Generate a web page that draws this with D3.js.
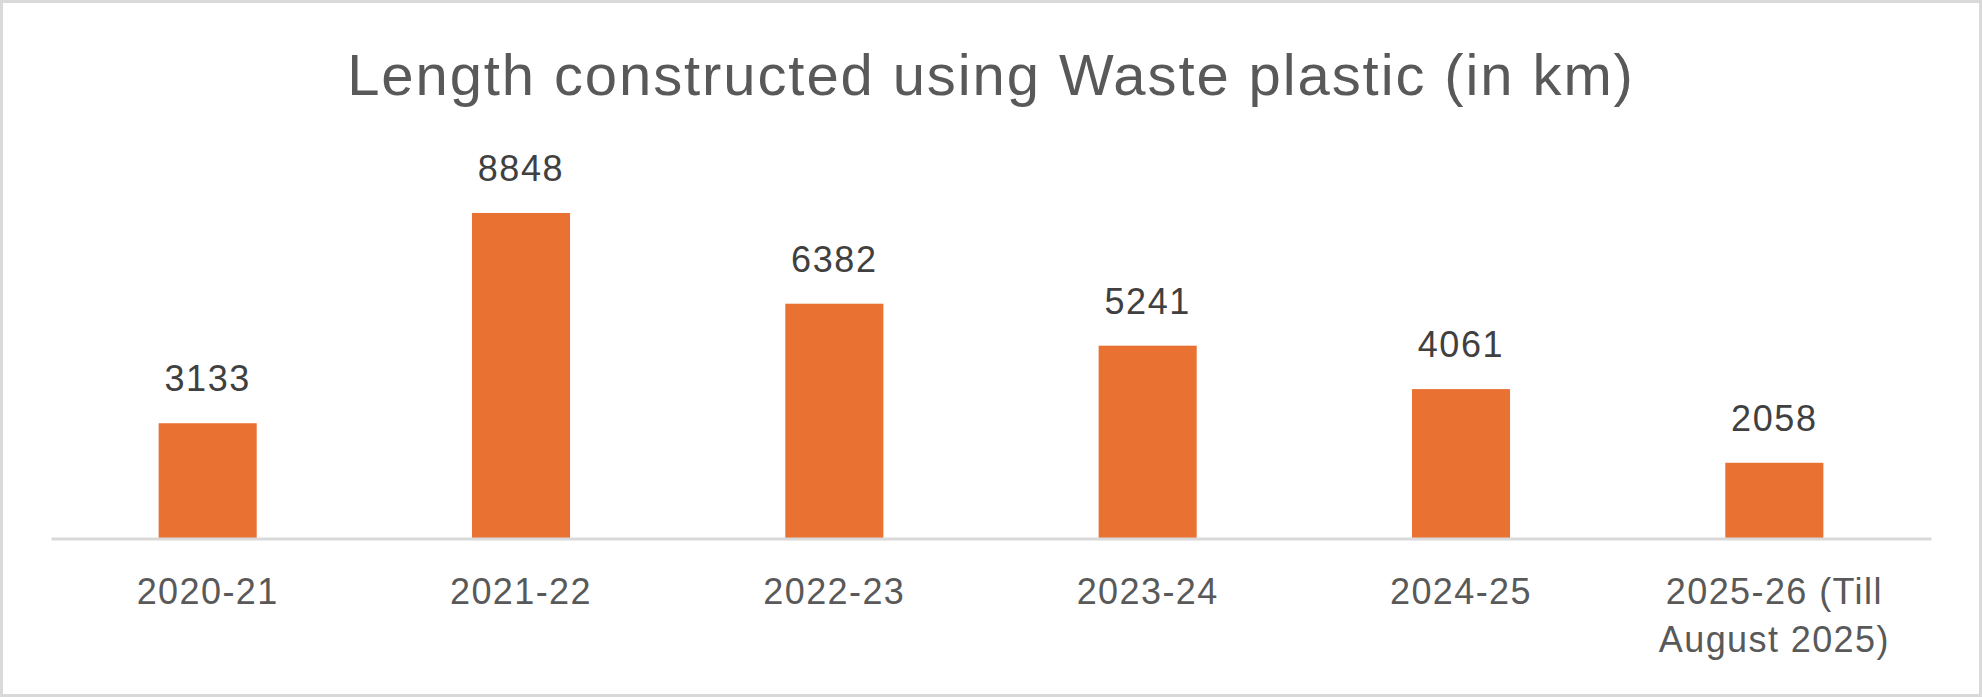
<!DOCTYPE html>
<html>
<head>
<meta charset="utf-8">
<script src="https://cdn.jsdelivr.net/npm/d3@7"></script>
<style>
  html, body { margin: 0; padding: 0; background: #ffffff; }
  svg { display: block; }
</style>
</head>
<body>
<svg id="chart" width="1982" height="697"></svg>
<script>
const title = "Length constructed using Waste plastic (in km)";
const categories = ["2020-21", "2021-22", "2022-23", "2023-24", "2024-25", "2025-26 (Till August 2025)"];
const categoryLines = [["2020-21"], ["2021-22"], ["2022-23"], ["2023-24"], ["2024-25"], ["2025-26 (Till", "August 2025)"]];
const values = [3133, 8848, 6382, 5241, 4061, 2058];
const yDomain = [0, 10000];

const W = 1982, H = 697;
const svg = d3.select("#chart");
const fontFamily = "'Liberation Sans', Arial, sans-serif";

// chart border
svg.append("rect")
  .attr("x", 1.5).attr("y", 1.5)
  .attr("width", W - 3).attr("height", H - 3)
  .attr("fill", "#ffffff")
  .attr("stroke", "#d9d9d9")
  .attr("stroke-width", 3);

const x = d3.scaleBand()
  .domain(categories)
  .range([51, 1931])
  .paddingInner(0.687)
  .paddingOuter(0.3435);

const y = d3.scaleLinear()
  .domain(yDomain)
  .range([538.5, 170.6]);

// title
svg.append("text")
  .attr("x", W / 2)
  .attr("y", 95)
  .attr("text-anchor", "middle")
  .attr("font-family", fontFamily)
  .attr("font-size", 58)
  .attr("letter-spacing", 1.9)
  .attr("fill", "#595959")
  .text(title);

// bars
svg.append("g").selectAll("rect")
  .data(values)
  .join("rect")
  .attr("x", (d, i) => x(categories[i]))
  .attr("y", d => y(d))
  .attr("width", x.bandwidth())
  .attr("height", d => y(0) - y(d))
  .attr("fill", "#E97132");

// axis line via d3 axis
const xAxis = svg.append("g")
  .attr("transform", `translate(0,${y(0)})`)
  .call(d3.axisBottom(x).tickSize(0).tickFormat(""));
xAxis.select(".domain")
  .attr("stroke", "#d9d9d9")
  .attr("stroke-width", 3);

// category labels
const catG = svg.append("g");
categories.forEach((c, i) => {
  const t = catG.append("text")
    .attr("x", x(c) + x.bandwidth() / 2)
    .attr("y", 604)
    .attr("text-anchor", "middle")
    .attr("font-family", fontFamily)
    .attr("font-size", 36)
    .attr("letter-spacing", 1.4)
    .attr("fill", "#595959");
  categoryLines[i].forEach((line, j) => {
    t.append("tspan")
      .attr("x", x(c) + x.bandwidth() / 2)
      .attr("dy", j === 0 ? 0 : 48)
      .text(line);
  });
});

// data labels
svg.append("g").selectAll("text")
  .data(values)
  .join("text")
  .attr("x", (d, i) => x(categories[i]) + x.bandwidth() / 2)
  .attr("y", d => y(d) - 32)
  .attr("text-anchor", "middle")
  .attr("font-family", fontFamily)
  .attr("font-size", 36)
  .attr("letter-spacing", 1.6)
  .attr("fill", "#404040")
  .text(d => d);
</script>
</body>
</html>
